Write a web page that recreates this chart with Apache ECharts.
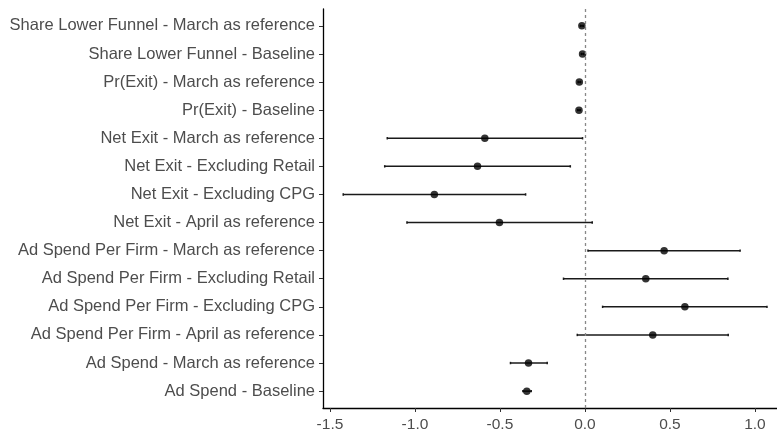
<!DOCTYPE html>
<html>
<head>
<meta charset="utf-8">
<script src="https://cdn.jsdelivr.net/npm/echarts@6/dist/echarts.min.js"></script>
<style>html,body{margin:0;padding:0;background:#fff}#c{width:777px;height:435px}</style>
</head>
<body>
<div id="c"></div>
<script>
const categories = [
  "Share Lower Funnel - March as reference",
  "Share Lower Funnel - Baseline",
  "Pr(Exit) - March as reference",
  "Pr(Exit) - Baseline",
  "Net Exit - March as reference",
  "Net Exit - Excluding Retail",
  "Net Exit - Excluding CPG",
  "Net Exit - April as reference",
  "Ad Spend Per Firm - March as reference",
  "Ad Spend Per Firm - Excluding Retail",
  "Ad Spend Per Firm - Excluding CPG",
  "Ad Spend Per Firm - April as reference",
  "Ad Spend - March as reference",
  "Ad Spend - Baseline"
];
const estimates = [-0.018, -0.014, -0.033, -0.035, -0.589, -0.632, -0.886, -0.503, 0.466, 0.358, 0.588, 0.399, -0.332, -0.342];
const lower =     [-0.026, -0.021, -0.040, -0.042, -1.163, -1.178, -1.422, -1.047, 0.018, -0.126, 0.104, -0.045, -0.438, -0.365];
const upper =     [-0.010, -0.007, -0.026, -0.028, -0.014, -0.086, -0.349, 0.043, 0.913, 0.841, 1.071, 0.843, -0.222, -0.316];
const xTicks = [-1.5, -1.0, -0.5, 0.0, 0.5, 1.0];

const rowIdx = categories.map((_, i) => i);
const font = "'Liberation Sans', Arial, Helvetica, sans-serif";

const chart = echarts.init(document.getElementById('c'), null, {renderer: 'canvas'});
chart.setOption({
  animation: false,
  backgroundColor: '#fff',
  grid: {left: 323, right: 0, top: 9, bottom: 27, containLabel: false},
  xAxis: {
    type: 'value', min: -1.541, max: 1.13, position: 'bottom',
    axisLine: {show: true, onZero: false, lineStyle: {color: '#000', width: 1.3}},
    axisTick: {show: true, length: 4, lineStyle: {color: '#333', width: 1}, customValues: xTicks},
    axisLabel: {customValues: xTicks, formatter: v => v.toFixed(1), color: '#4d4d4d', fontSize: 15.5, fontFamily: font, margin: 9},
    splitLine: {show: false}
  },
  yAxis: {
    type: 'value', inverse: true, min: -0.6, max: 13.6, position: 'left',
    axisLine: {show: true, onZero: false, lineStyle: {color: '#000', width: 1.3}},
    axisTick: {show: true, length: 4, lineStyle: {color: '#333', width: 1}, customValues: rowIdx},
    axisLabel: {customValues: rowIdx, formatter: v => categories[Math.round(v)] || '', color: '#4d4d4d', fontSize: 16.5, fontFamily: font, margin: 8},
    splitLine: {show: false}
  },
  series: [
    {
      type: 'custom',
      data: rowIdx.map(i => [lower[i], upper[i], i]),
      renderItem: (params, api) => {
        const a = api.coord([api.value(0), api.value(2)]);
        const b = api.coord([api.value(1), api.value(2)]);
        const st = {stroke: '#1a1a1a', lineWidth: 1.5};
        return {type: 'group', children: [
          {type: 'line', shape: {x1: a[0], y1: a[1], x2: b[0], y2: b[1]}, style: st},
          {type: 'line', shape: {x1: a[0], y1: a[1]-1.2, x2: a[0], y2: a[1]+1.2}, style: st},
          {type: 'line', shape: {x1: b[0], y1: b[1]-1.2, x2: b[0], y2: b[1]+1.2}, style: st}
        ]};
      },
      z: 2
    },
    {
      type: 'scatter',
      data: rowIdx.map(i => [estimates[i], i]),
      symbol: 'circle', symbolSize: 7.5,
      itemStyle: {color: '#000'},
      z: 3,
      markLine: {
        silent: true, symbol: 'none', label: {show: false},
        lineStyle: {color: '#888', type: [3, 3], width: 1.3},
        data: [{xAxis: 0}]
      }
    }
  ]
});
</script>
</body>
</html>
